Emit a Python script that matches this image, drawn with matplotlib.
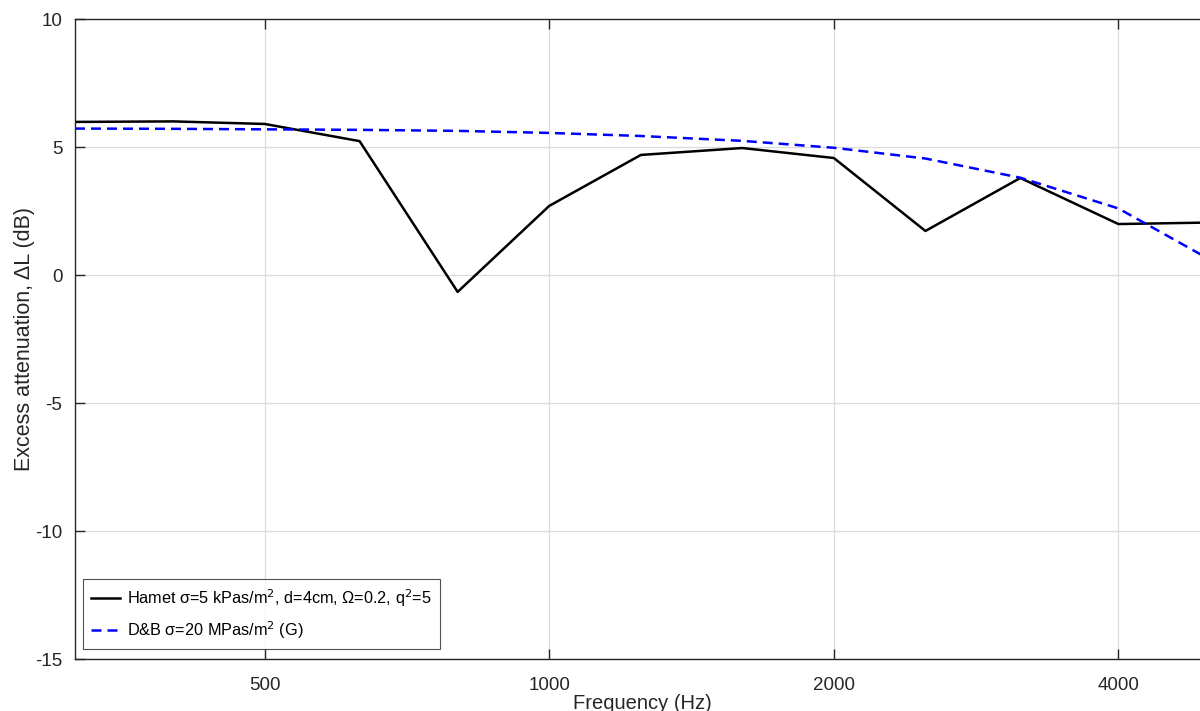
import numpy as np
import matplotlib
matplotlib.use('Agg')
import matplotlib.pyplot as plt
from matplotlib.ticker import FixedLocator, NullLocator, FixedFormatter

plt.rcParams['font.family'] = ['Liberation Sans', 'DejaVu Sans']

# third-octave band centre frequencies (Hz)
freq = [315, 400, 500, 630, 800, 1000, 1250, 1600, 2000, 2500, 3150, 4000, 5000]
# Hamet model, excess attenuation (dB)
hamet = [5.98, 6.0, 5.9, 5.23, -0.66, 2.7, 4.69, 4.96, 4.57, 1.72, 3.79, 1.99, 2.05]
# Delany & Bazley, excess attenuation (dB)
db = [5.72, 5.71, 5.69, 5.67, 5.63, 5.55, 5.43, 5.24, 4.97, 4.55, 3.8, 2.6, 0.6]

xticks = [500, 1000, 2000, 4000]
yticks = [-15, -10, -5, 0, 5, 10]

fig = plt.figure(figsize=(12, 7.11), dpi=100)
# axes run past the right edge of the figure, as in the reference
ax = fig.add_axes([75/1200, 1-659/711, 1135/1200, 640/711])

ax.plot(freq, hamet, color='black', lw=1.8,
        label='Hamet σ=5 kPas/m$^2$, d=4cm, Ω=0.2, q$^2$=5')
ax.plot(freq, db, color='blue', lw=1.8, dashes=(4, 2.4),
        label='D&B σ=20 MPas/m$^2$ (G)')

ax.set_xscale('log')
ax.set_xlim(315, 5000)
ax.set_ylim(-15, 10)
ax.xaxis.set_major_locator(FixedLocator(xticks))
ax.xaxis.set_major_formatter(FixedFormatter([str(t) for t in xticks]))
ax.xaxis.set_minor_locator(NullLocator())
ax.set_yticks(yticks)
ax.set_yticklabels([str(t) for t in yticks])

ax.grid(True, color='#dcdcdc', lw=0.9)
ax.set_axisbelow(True)
for s in ax.spines.values():
    s.set_color('#262626')
    s.set_linewidth(1.0)
ax.tick_params(direction='in', length=7, width=1, colors='#262626',
               labelsize=13.5, top=True, right=True)
ax.tick_params(axis='x', pad=13)
ax.tick_params(axis='y', pad=9)

ax.set_xlabel('Frequency (Hz)', fontsize=14.5, color='#262626', labelpad=0)
ax.set_ylabel('Excess attenuation, ΔL (dB)', fontsize=15.5, color='#262626', labelpad=0)

leg = ax.legend(loc='lower left', bbox_to_anchor=(8/1135, 10/640), fontsize=11.7,
                frameon=True, fancybox=False, handlelength=1.8, handletextpad=0.4,
                borderpad=0.5, labelspacing=0.65, borderaxespad=0)
leg.get_frame().set_edgecolor('#262626')
leg.get_frame().set_linewidth(0.8)

fig.savefig('out.png', dpi=100)
